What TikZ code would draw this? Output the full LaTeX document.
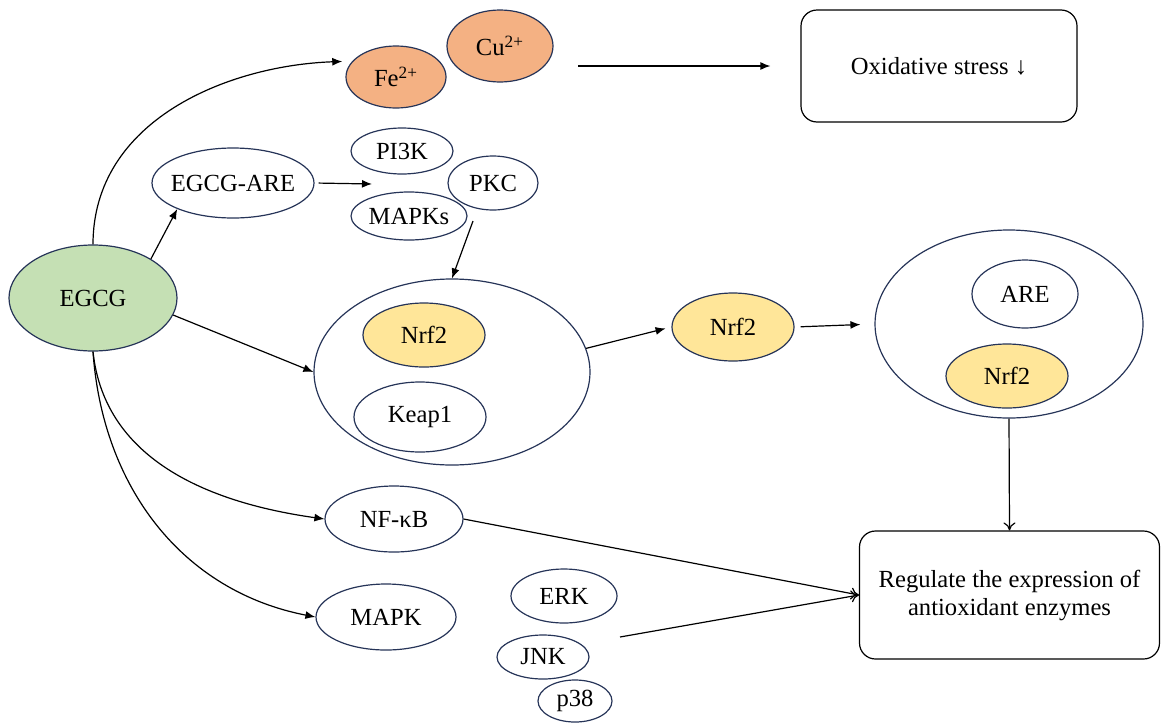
\documentclass[tikz,border=0pt]{standalone}
\usepackage{fontspec}
\setmainfont{Liberation Serif}
\usetikzlibrary{arrows.meta, shapes.geometric}

\definecolor{leaf}{RGB}{197,224,180}
\definecolor{copper}{RGB}{244,177,131}
\definecolor{nrfyellow}{RGB}{255,230,153}
\definecolor{rim}{RGB}{38,52,88}

\begin{document}
\begin{tikzpicture}[
        x = 0.5pt, y = 0.5pt,
        line width = 0.6pt,
        >= {Latex[length = 5pt, width = 4pt]},
        every node/.style = {font = \fontsize{12.3}{14}\selectfont},
        blob/.style 2 args = {ellipse, draw = rim, line width = 0.6pt, inner sep = 0pt,
                              minimum width = #1pt, minimum height = #2pt},
        card/.style = {rectangle, draw = black, line width = 0.6pt, rounded corners = 8pt, align = center},
        barb/.style = {-{To[length = 4pt, width = 6pt]}}
    ]

      \useasboundingbox (0, 0) rectangle (1161, -723);

      \node[blob = {84}{53}, fill = leaf] (egcg) at (93, -298) {EGCG};

      % metal ions
      \node[blob = {50}{31}, fill = copper] (fe) at (396, -77) {Fe\textsuperscript{2+}};
      \node[blob = {53}{36}, fill = copper] (cu) at (500, -46) {Cu\textsuperscript{2+}};
      \node[card, minimum width = 138pt, minimum height = 56pt] (ox) at (939, -66) {Oxidative stress ↓};

      % kinases
      \node[blob = {81}{35}, inner xsep = -3pt] (are) at (233, -183) {EGCG-ARE};
      \node[blob = {51}{23}] (pik) at (402, -151) {PI3K};
      \node[blob = {45}{27}] (pkc) at (493, -183) {PKC};
      \node[blob = {58}{24}] (mapks) at (409, -216) {MAPKs};

      % Nrf2 / Keap1 complex
      \node[blob = {138}{93}] (cell1) at (452, -372) {};
      \node[blob = {61}{32}, fill = nrfyellow] (nrf2a) at (424, -335) {Nrf2};
      \node[blob = {66}{35}] (keap) at (420, -417) {Keap1};

      \node[blob = {61}{34}, fill = nrfyellow] (nrf2m) at (733, -327) {Nrf2};

      \node[blob = {134}{94}] (cell2) at (1009, -324) {};
      \node[blob = {53}{34}] (areb) at (1025, -294) {ARE};
      \node[blob = {61}{32}, fill = nrfyellow] (nrf2b) at (1007, -376) {Nrf2};

      \node[card, minimum width = 150pt, minimum height = 64pt] (reg) at (1009.5, -595)
            {Regulate the expression of\\antioxidant enzymes};

      \node[blob = {69}{33}] (nfkb) at (394, -519) {NF-κB};
      \node[blob = {70}{33}] (mapk) at (386, -617) {MAPK};
      \node[blob = {53}{27}] (erk) at (564, -596) {ERK};
      \node[blob = {46}{22}] (jnk) at (543, -657) {JNK};
      \node[blob = {37}{21}] (p38) at (575, -701) {p38};

      \coordinate (ions) at (578, -66);
      \coordinate (kin) at (372, -184);
      \coordinate (kout) at (473, -221);
      \coordinate (mapkout) at (620, -637);

      \path[->]
            (egcg.north) edge [out = 90, in = 182, shorten >= 5pt] (fe.160)
            (egcg.34) edge (are.205)
            (are.east) edge [shorten <= 2pt] (kin)
            (kout) edge (cell1.north)
            (egcg.-12) edge (cell1.west)
            (cell1.10) edge [shorten >= 3pt] (nrf2m.west)
            (nrf2m.east) edge [shorten <= 3pt, shorten >= 7pt] (cell2.west)
            (ions) edge [shorten >= 15pt] (ox.west)
            (egcg.south) edge [out = -84, in = 172] (nfkb.west)
            (egcg.south) edge [out = -86, in = 169] (mapk.west);

      \path[barb]
            (cell2.south) edge (reg.north)
            (nfkb.east) edge (reg.west)
            (mapkout) edge (reg.west);

    \end{tikzpicture}
\end{document}
